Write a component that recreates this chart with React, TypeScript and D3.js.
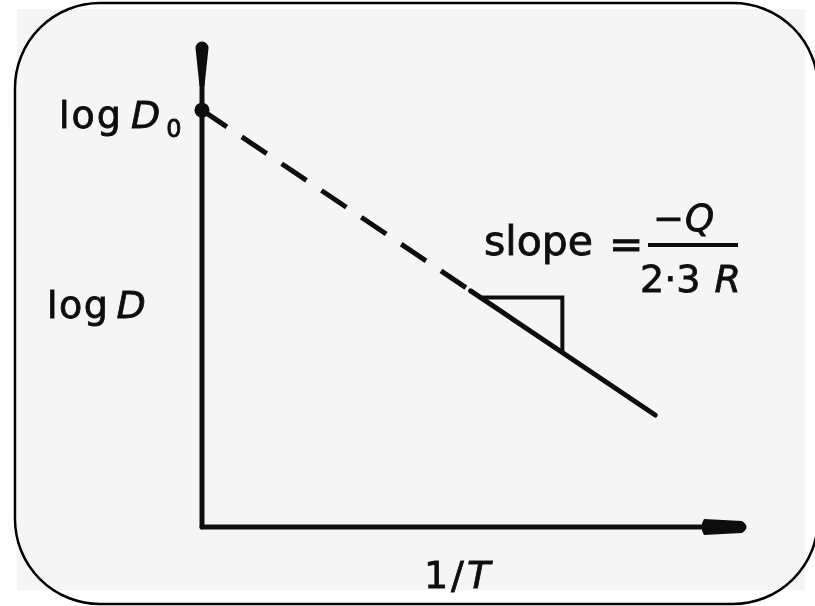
import React from "react";
import * as d3 from "d3";

// Axis domains (arbitrary units for log D and 1/T)
const xDomain = [0, 100];
const yDomain = [0, 100];

// Arrhenius line: intercept log D0, start of the measured (solid) part, end
const dashedX = [0, 49.2];
const dashedY = [85.6, 48.5];
const solidX = [49.2, 83.0];
const solidY = [48.5, 23.0];

// Slope triangle corners
const triX = [51.0, 66.0, 66.0];
const triY = [47.1, 47.1, 35.8];

const W = 815;
const H = 606;

export default function App() {
  const x = d3.scaleLinear().domain(xDomain).range([202, 748]);
  const y = d3.scaleLinear().domain(yDomain).range([527, 40]);
  const line = d3.line<[number, number]>().x((d) => x(d[0])).y((d) => y(d[1]));

  const dashed = line(dashedX.map((v, i) => [v, dashedY[i]]))!;
  const solid = line(solidX.map((v, i) => [v, solidY[i]]))!;
  const tri = line(triX.map((v, i) => [v, triY[i]]))!;

  const x0 = x(0);
  const y0 = y(0);
  const yTop = y(yDomain[1]);
  const xEnd = x(xDomain[1]);

  const font = "'DejaVu Sans', sans-serif";

  return (
    <svg
      width={W}
      height={H}
      style={{ position: "absolute", left: 0, top: 0, display: "block", background: "#ffffff" }}
    >
      <defs>
        <filter id="soft" x="-5%" y="-5%" width="110%" height="110%">
          <feGaussianBlur stdDeviation="0.7" />
        </filter>
      </defs>
      <rect x={17} y={9} width={788} height={581} fill="#f5f5f5" />
      <g filter="url(#soft)" fill="#111" stroke="#111">
        {/* axes */}
        <line x1={x0} y1={y0} x2={x0} y2={yTop + 40} strokeWidth={5} strokeLinecap="round" />
        <line x1={x0} y1={y0} x2={xEnd - 40} y2={y0} strokeWidth={5} strokeLinecap="round" />
        <path
          d={`M${x0 - 2.5},${yTop + 46} L${x0 - 6.5},${yTop + 8} A6.5,6.5 0 0 1 ${x0 + 6.5},${yTop + 8} L${x0 + 2.5},${yTop + 46} Z`}
          stroke="none"
        />
        <path
          d={`M${xEnd - 44},${y0 - 8} L${xEnd - 6},${y0 - 6} Q${xEnd + 3},${y0} ${xEnd - 6},${y0 + 6} L${xEnd - 44},${y0 + 8} Q${xEnd - 49},${y0} ${xEnd - 44},${y0 - 8} Z`}
          stroke="none"
        />
        {/* intercept */}
        <circle cx={x(dashedX[0])} cy={y(dashedY[0])} r={7.5} stroke="none" />
        {/* extrapolated and measured parts of the line */}
        <path d={dashed} fill="none" strokeWidth={5} strokeDasharray="30 18" />
        <path d={solid} fill="none" strokeWidth={5} strokeLinecap="round" />
        <path d={tri} fill="none" strokeWidth={4} strokeLinejoin="miter" />

        {/* labels */}
        <g strokeWidth={0.8} fontFamily={font}>
          <text x={59} y={128} fontSize={38}>
            <tspan letterSpacing={2}>log</tspan>
            <tspan dx={8} fontStyle="italic">D</tspan>
            <tspan dx={6} dy={9} fontSize={24}>0</tspan>
          </text>
          <text x={47} y={318} fontSize={38}>
            <tspan letterSpacing={1.5}>log</tspan>
            <tspan dx={7} fontStyle="italic">D</tspan>
          </text>
          <text x={484} y={255} fontSize={41}>slope</text>
          <text x={609} y={258} fontSize={41}>=</text>
          <line x1={648} y1={245} x2={738} y2={245} stroke="#111" strokeWidth={4} />
          <text x={653} y={231} fontSize={37}>
            −<tspan dx={1} fontStyle="italic">Q</tspan>
          </text>
          <text x={640} y={292} fontSize={38}>
            2·3<tspan dx={14} fontStyle="italic">R</tspan>
          </text>
          <text x={457} y={588} fontSize={38} textAnchor="middle">
            1<tspan dx={3}>/</tspan>
            <tspan dx={3} fontStyle="italic">T</tspan>
          </text>
        </g>
      </g>
      {/* rounded frame */}
      <rect x={15} y={3} width={803} height={601} rx={85} ry={85} fill="none" stroke="#000" strokeWidth={2.5} />
    </svg>
  );
}
